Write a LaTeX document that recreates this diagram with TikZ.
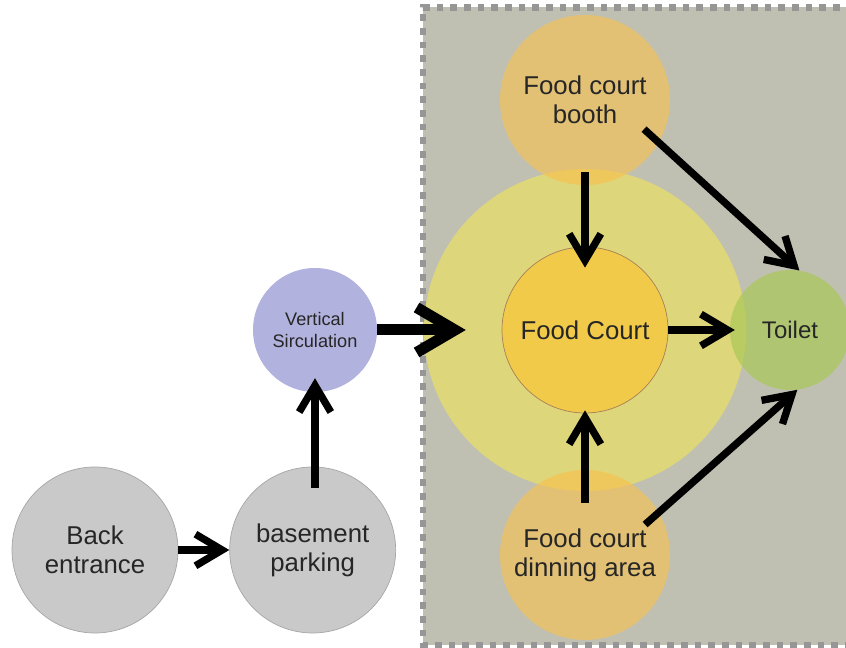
\documentclass[tikz,border=0pt]{standalone}
\usepackage{fontspec}
\setmainfont{Liberation Sans}
\usetikzlibrary{arrows.meta}
\definecolor{zonegray}{RGB}{192,192,178}
\definecolor{dashgray}{RGB}{150,150,150}
\definecolor{ringyellow}{RGB}{222,214,122}
\definecolor{courtyellow}{RGB}{242,202,74}
\definecolor{boothorange}{RGB}{250,192,75}
\definecolor{toiletgreen}{RGB}{168,200,88}
\definecolor{stairblue}{RGB}{178,178,222}
\definecolor{lightgray}{RGB}{201,201,201}
\begin{document}
\begin{tikzpicture}[
    place/.style={circle, inner sep=0pt, align=center, text=black!85, font=\fontsize{22}{25}\selectfont},
    flow/.style={line width=0.22cm, -{Straight Barb[length=0.8cm, width=0.95cm]}},
    bigflow/.style={line width=0.33cm, -{Straight Barb[length=1.15cm, width=1.35cm]}}
  ]
  \clip (0,0) rectangle (25.38,19.44);
  \fill[zonegray] (12.69,0.09) rectangle (25.6,19.215);
  \draw[dashgray, line width=0.2cm, dash pattern=on 0.2cm off 0.21cm]
    (25.6,19.215) -- (12.69,19.215) -- (12.69,0.09) -- (25.6,0.09);

  \node[place, fill=ringyellow, minimum size=9.66cm] (zone) at (17.55,9.54) {};
  \node[place, fill=boothorange, fill opacity=0.6, text opacity=1, minimum size=5.1cm] (booth) at (17.55,16.44) {Food court\\booth};
  \node[place, fill=boothorange, fill opacity=0.6, text opacity=1, minimum size=5.1cm] (dining) at (17.55,2.79) {Food court\\dinning area};
  \node[place, fill=courtyellow, draw=brown!60!gray, line width=0.6pt, minimum size=4.98cm] (court) at (17.55,9.54) {Food Court};
  \node[place, fill=toiletgreen, fill opacity=0.7, text opacity=1, minimum size=3.6cm, font=\fontsize{20.5}{24}\selectfont] (toilet) at (23.7,9.54) {Toilet};

  \node[place, fill=stairblue, minimum size=3.72cm, font=\fontsize{15.5}{18.5}\selectfont] (stair) at (9.45,9.54) {Vertical\\Sirculation};
  \node[place, fill=lightgray, draw=gray!70, line width=0.6pt, minimum size=4.98cm] (back) at (2.85,2.94) {Back\\entrance};
  \node[place, fill=lightgray, draw=gray!70, line width=0.6pt, minimum size=4.98cm] (parking) at (9.38,2.94) {basement\\parking};

  \draw[flow] (back) -- (parking);
  \draw[flow, shorten <=-0.63cm, shorten >=-0.42cm] (stair |- parking.north) -- (stair.south);
  \draw[bigflow, shorten >=-1.26cm] (stair) -- (zone);
  \draw[flow, shorten <=-0.39cm, shorten >=-0.63cm] (booth) -- (court);
  \draw[flow, shorten >=-0.15cm] (court) -- (toilet);
  \draw[flow, shorten <=-0.99cm, shorten >=-0.09cm] (dining) -- (court);
  \draw[flow, shorten <=-0.6cm] (booth.-30) -- (toilet.81);
  \draw[flow, shorten <=-0.55cm] (dining.30) -- (toilet.-83);
\end{tikzpicture}
\end{document}
